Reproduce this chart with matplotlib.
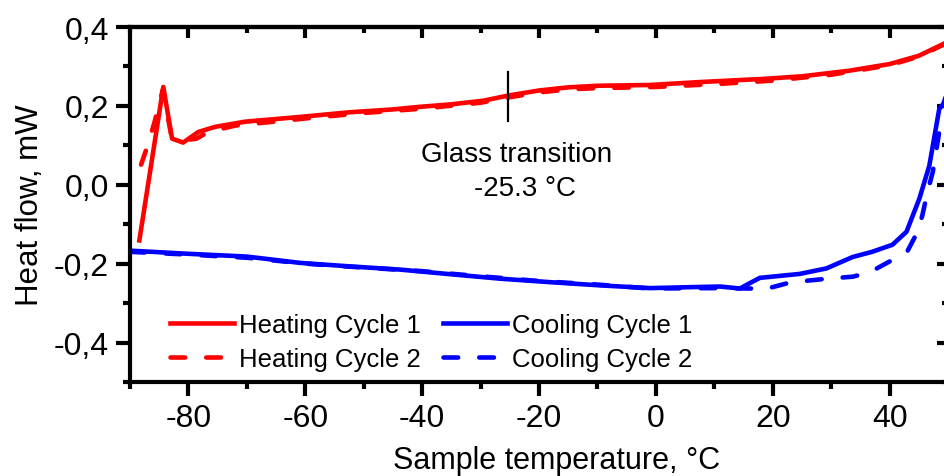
import matplotlib
matplotlib.use("Agg")
import matplotlib.pyplot as plt
from matplotlib.ticker import MultipleLocator, FuncFormatter

plt.rcParams['font.family'] = ['Liberation Sans', 'DejaVu Sans']
plt.rcParams['axes.unicode_minus'] = False

# DSC traces: temperature (°C) and heat flow (mW)
heat1_t = [-88.4, -84.3, -82.8, -80.9, -78.3, -75.4, -70.3, -60.9, -52.3, -45.0, -40.9,
           -35.0, -29.6, -25.0, -20.0, -15.0, -10.0, -1.0, 7.0, 15.0, 18.0, 25.0, 33.0,
           40.0, 45.0, 49.2, 50.0]
heat1_q = [-0.141, 0.248, 0.117, 0.107, 0.134, 0.147, 0.160, 0.172, 0.184, 0.191, 0.197,
           0.204, 0.213, 0.227, 0.239, 0.247, 0.251, 0.253, 0.260, 0.266, 0.268, 0.275,
           0.289, 0.306, 0.327, 0.357, 0.363]

heat2_t = [-88.1, -87.0, -85.8, -84.4, -83.0, -81.0, -78.6, -76.6, -72.0, -60.0, -50.0,
           -40.0, -30.0, -25.0, -20.0, -15.0, -10.0, 0.0, 10.0, 20.0, 30.0, 40.0, 45.0,
           49.2, 50.0]
heat2_q = [0.051, 0.099, 0.159, 0.240, 0.130, 0.112, 0.117, 0.134, 0.150, 0.168, 0.182,
           0.193, 0.208, 0.222, 0.234, 0.242, 0.245, 0.248, 0.255, 0.264, 0.279, 0.303,
           0.325, 0.355, 0.362]

cool1_t = [-90.0, -80.0, -70.0, -60.9, -52.3, -43.8, -35.0, -26.7, -18.0, -9.6, -1.0,
           7.5, 11.0, 14.4, 16.0, 17.8, 24.6, 29.2, 33.7, 37.0, 40.5, 42.9, 45.1, 46.8,
           48.5, 49.2, 50.0]
cool1_q = [-0.167, -0.175, -0.182, -0.198, -0.207, -0.215, -0.227, -0.238, -0.247, -0.255,
           -0.262, -0.259, -0.258, -0.263, -0.250, -0.236, -0.226, -0.212, -0.183, -0.170,
           -0.152, -0.119, -0.035, 0.048, 0.192, 0.205, 0.24]

cool2_t = [-90.0, -80.0, -70.0, -60.0, -50.0, -40.0, -30.0, -20.0, -10.0, -1.0, 10.0,
           16.0, 19.1, 22.4, 26.0, 29.4, 33.7, 36.6, 40.3, 43.1, 44.8, 45.6, 46.5, 47.4,
           48.5, 49.2, 50.0]
cool2_q = [-0.170, -0.177, -0.185, -0.200, -0.210, -0.219, -0.232, -0.244, -0.253, -0.263,
           -0.262, -0.263, -0.263, -0.250, -0.243, -0.238, -0.233, -0.222, -0.192, -0.167,
           -0.119, -0.078, -0.018, 0.033, 0.134, 0.160, 0.19]

tg = -25.3

fig = plt.figure(figsize=(9.44, 4.77), dpi=100)
ax = fig.add_axes([130 / 944, 94 / 477, 818 / 944, 355 / 477])

lw = 3.3
dash = (3.2, 4.6)
ax.plot(heat1_t, heat1_q, color='#ff0000', lw=lw, label='Heating Cycle 1')
ax.plot(heat2_t, heat2_q, color='#ff0000', lw=lw, ls=(0, dash), dash_capstyle='round',
        label='Heating Cycle 2')
ax.plot(cool1_t, cool1_q, color='#0000ff', lw=lw, label='Cooling Cycle 1')
ax.plot(cool2_t, cool2_q, color='#0000ff', lw=lw, ls=(0, dash), dash_capstyle='round',
        label='Cooling Cycle 2')

# glass transition marker
ax.plot([tg, tg], [0.161, 0.287], color='black', lw=1.6)
ax.text(-23.9, 0.078, 'Glass transition', ha='center', va='center', fontsize=20)
ax.text(-22.4, -0.008, f'{tg} °C', ha='center', va='center', fontsize=20)

ax.set_xlim(-90, 50)
ax.set_ylim(-0.5, 0.4)

ax.xaxis.set_major_locator(MultipleLocator(20))
ax.xaxis.set_minor_locator(MultipleLocator(10))
ax.yaxis.set_major_locator(MultipleLocator(0.2))
ax.yaxis.set_minor_locator(MultipleLocator(0.1))
ax.yaxis.set_major_formatter(FuncFormatter(lambda v, p: f'{v:.1f}'.replace('.', ',')))

sw = 3
for s in ax.spines.values():
    s.set_linewidth(sw)
ax.tick_params(which='major', direction='out', length=10, width=sw, labelsize=23, pad=5)
ax.tick_params(which='minor', direction='out', length=5, width=sw)

# inward ticks on top and right
top = ax.secondary_xaxis('top')
top.xaxis.set_major_locator(MultipleLocator(20))
top.xaxis.set_minor_locator(MultipleLocator(10))
top.tick_params(which='major', direction='in', length=8, width=sw, labeltop=False)
top.tick_params(which='minor', direction='in', length=4, width=sw)
top.spines['top'].set_linewidth(sw)
right = ax.secondary_yaxis('right')
right.yaxis.set_major_locator(MultipleLocator(0.2))
right.yaxis.set_minor_locator(MultipleLocator(0.1))
right.tick_params(which='major', direction='in', length=8, width=sw, labelright=False)
right.tick_params(which='minor', direction='in', length=4, width=sw)
right.spines['right'].set_linewidth(sw)

ax.set_xlabel('Sample temperature, °C', fontsize=22)
ax.set_ylabel('Heat flow, mW', fontsize=22.5)
ax.xaxis.set_label_coords(0.521, -0.178)
ax.yaxis.set_label_coords(-0.104, 0.5)

ax.legend(ncol=2, frameon=False, fontsize=18.5, loc='lower left',
          bbox_to_anchor=(0.0486, 0.03), borderaxespad=0, borderpad=0,
          handlelength=2.5, handletextpad=0.2, columnspacing=0.85, labelspacing=0.42)

fig.savefig('out.png', dpi=100)
